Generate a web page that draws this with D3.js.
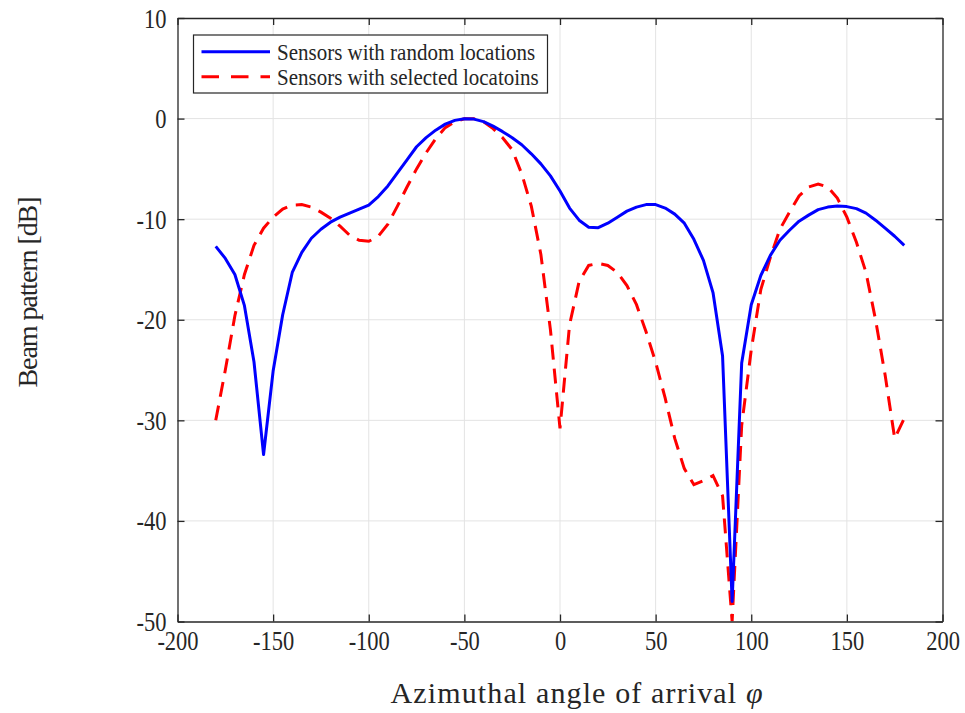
<!DOCTYPE html>
<html>
<head>
<meta charset="utf-8">
<script src="https://cdn.jsdelivr.net/npm/d3@7"></script>
<style>
  html, body { margin: 0; padding: 0; background: #fff; }
  svg { display: block; }
  text { font-family: "Liberation Serif", "Times New Roman", serif; fill: #262626; }
</style>
</head>
<body>
<svg id="chart" width="965" height="713"></svg>
<script>
// Azimuth samples (degrees), one every 5 degrees
const angles = d3.range(-180, 181, 5);

// Beam pattern in dB for randomly placed sensors
const randomPattern = [
  -12.7, -13.9, -15.5, -18.6, -24.2, -33.4, -25.1, -19.5, -15.3, -13.3,
  -11.9, -11.0, -10.3, -9.8, -9.4, -9.0, -8.6, -7.75, -6.7, -5.4,
  -4.1, -2.8, -1.9, -1.15, -0.55, -0.18, -0.02, -0.05, -0.3, -0.75,
  -1.3, -1.9, -2.6, -3.5, -4.5, -5.7, -7.2, -8.9, -10.1, -10.8,
  -10.85, -10.4, -9.8, -9.2, -8.8, -8.55, -8.55, -8.9, -9.5, -10.4,
  -12.0, -14.1, -17.3, -23.6, -48.0, -24.3, -18.5, -15.6, -13.6, -12.1,
  -11.1, -10.2, -9.6, -9.05, -8.8, -8.7, -8.75, -8.95, -9.4, -10.1,
  -10.9, -11.7, -12.6
];

// Beam pattern in dB for sensors at selected positions
const selectedPattern = [
  -30.0, -25.0, -19.6, -15.5, -12.6, -10.9, -9.8, -9.0, -8.6, -8.55,
  -8.8, -9.3, -9.9, -10.7, -11.6, -12.1, -12.2, -11.7, -10.5, -8.7,
  -6.8, -5.0, -3.4, -2.0, -0.9, -0.3, -0.02, -0.02, -0.3, -1.0,
  -1.9, -3.1, -5.5, -8.7, -13.5, -21.0, -30.8, -20.5, -16.2, -14.6,
  -14.4, -14.6, -15.3, -16.6, -18.5, -21.2, -24.2, -27.8, -31.8, -34.8,
  -36.4, -36.0, -35.5, -37.5, -50.0, -30.5, -23.0, -17.0, -13.8, -11.0,
  -9.3, -7.7, -6.8, -6.5, -6.8, -7.9, -9.8, -12.3, -15.3, -20.0,
  -25.5, -31.8, -29.8
];

const xTicks = [-200, -150, -100, -50, 0, 50, 100, 150, 200];
const yTicks = [10, 0, -10, -20, -30, -40, -50];

const seriesNames = ["Sensors with random locations", "Sensors with selected locatoins"];
const seriesColors = ["#0000ff", "#ff0000"];

const svg = d3.select("#chart");
const plotLeft = 177.5, plotRight = 942.5, plotTop = 18, plotBottom = 621.5;

const x = d3.scaleLinear().domain([-200, 200]).range([plotLeft, plotRight]);
const y = d3.scaleLinear().domain([-50, 10]).range([plotBottom, plotTop]);

// Grid
const grid = svg.append("g").attr("stroke", "#e3e3e3").attr("stroke-width", 1);
grid.selectAll(".gx").data(xTicks.slice(1, -1)).join("line")
  .attr("x1", d => x(d)).attr("x2", d => x(d))
  .attr("y1", plotTop).attr("y2", plotBottom);
grid.selectAll(".gy").data(yTicks.slice(1, -1)).join("line")
  .attr("y1", d => y(d)).attr("y2", d => y(d))
  .attr("x1", plotLeft).attr("x2", plotRight);

// Curves
svg.append("clipPath").attr("id", "plotclip")
  .append("rect").attr("x", plotLeft).attr("y", plotTop)
  .attr("width", plotRight - plotLeft).attr("height", plotBottom - plotTop);

const line = d3.line().x(d => x(d[0])).y(d => y(d[1]));
const plot = svg.append("g").attr("clip-path", "url(#plotclip)");

plot.append("path")
  .datum(angles.map((a, i) => [a, selectedPattern[i]]))
  .attr("d", line).attr("fill", "none")
  .attr("stroke", seriesColors[1]).attr("stroke-width", 3)
  .attr("stroke-dasharray", "15,9");

plot.append("path")
  .datum(angles.map((a, i) => [a, randomPattern[i]]))
  .attr("d", line).attr("fill", "none")
  .attr("stroke", seriesColors[0]).attr("stroke-width", 3)
  .attr("stroke-linejoin", "round");

// Axes (box with inward ticks on all sides)
const axisColor = "#262626";
const tickFmt = d => String(d);   // plain hyphen-minus for negatives
const stretch = 1.18;             // tall, narrow tick numerals
function styleAxis(g) {
  g.attr("font-family", "Liberation Serif").attr("font-size", 22.5);
  g.select(".domain").attr("stroke", axisColor).attr("stroke-width", 1.3);
  g.selectAll(".tick line").attr("stroke", axisColor).attr("stroke-width", 1.3);
  g.selectAll(".tick text").attr("fill", axisColor)
    .style("font-family", "'Liberation Serif', serif").style("font-size", "22.5px");
}

svg.append("g").attr("transform", `translate(0,${plotBottom})`)
  .call(d3.axisBottom(x).tickValues(xTicks).tickFormat(tickFmt)
    .tickSizeInner(-7).tickSizeOuter(0))
  .call(styleAxis)
  .call(g => g.selectAll(".tick text")
    .attr("y", 0).attr("dy", null)
    .attr("transform", `translate(0,28.5) scale(1,${stretch})`));
svg.append("g").attr("transform", `translate(0,${plotTop})`)
  .call(d3.axisTop(x).tickValues(xTicks).tickSizeInner(-7).tickSizeOuter(0).tickFormat(""))
  .call(styleAxis);
svg.append("g").attr("transform", `translate(${plotLeft},0)`)
  .call(d3.axisLeft(y).tickValues(yTicks).tickFormat(tickFmt)
    .tickSizeInner(-7).tickSizeOuter(0))
  .call(styleAxis)
  .call(g => g.selectAll(".tick text")
    .attr("x", 0).attr("dy", null)
    .attr("transform", `translate(-11,9) scale(1,${stretch})`));
svg.append("g").attr("transform", `translate(${plotRight},0)`)
  .call(d3.axisRight(y).tickValues(yTicks).tickSizeInner(-7).tickSizeOuter(0).tickFormat(""))
  .call(styleAxis);

// Axis titles
const xTitle = svg.append("text")
  .attr("x", 576.5).attr("y", 703)
  .attr("text-anchor", "middle")
  .attr("textLength", 372).attr("lengthAdjust", "spacing")
  .style("font-size", "30px")
  .attr("fill", "#262626");
xTitle.append("tspan").text("Azimuthal angle of arrival ");
xTitle.append("tspan").style("font-style", "italic").text("φ");

svg.append("text")
  .attr("transform", "translate(37,292) rotate(-90)")
  .attr("text-anchor", "middle")
  .attr("textLength", 191).attr("lengthAdjust", "spacing")
  .style("font-size", "28px")
  .attr("fill", "#262626")
  .text("Beam pattern [dB]");

// Legend
const legend = svg.append("g");
legend.append("rect")
  .attr("x", 193.5).attr("y", 35).attr("width", 354).attr("height", 58)
  .attr("fill", "#fff").attr("stroke", axisColor).attr("stroke-width", 1.2);
seriesNames.forEach((name, i) => {
  const cy = 51.7 + i * 25;
  legend.append("line")
    .attr("x1", 201.5).attr("x2", 270).attr("y1", cy).attr("y2", cy)
    .attr("stroke", seriesColors[i]).attr("stroke-width", 3)
    .attr("stroke-dasharray", i === 1 ? "17.5,12" : null);
  legend.append("text")
    .attr("transform", `translate(277,${cy + 8.3}) scale(1,1.07)`)
    .style("font-size", "21px")
    .attr("fill", "#000")
    .text(name);
});
</script>
</body>
</html>
